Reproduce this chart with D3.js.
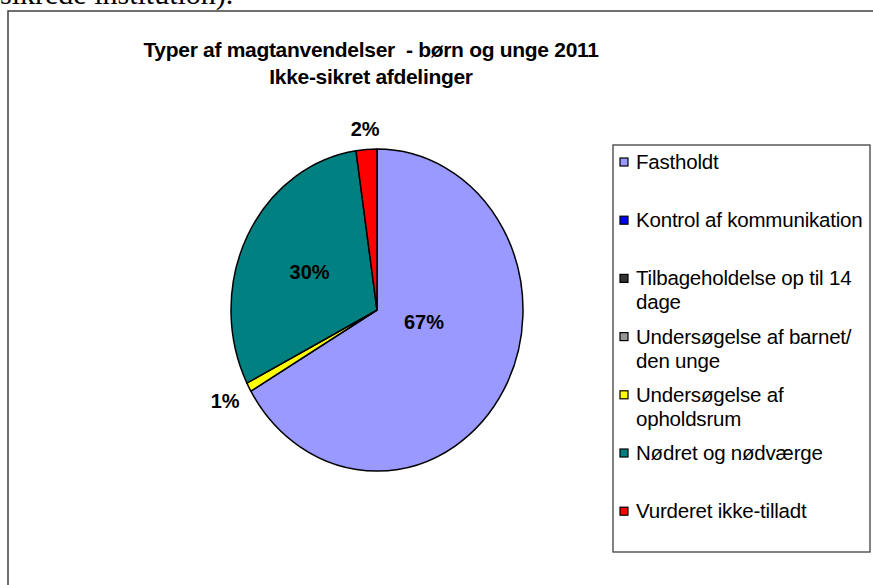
<!DOCTYPE html>
<html><head><meta charset="utf-8">
<script src="https://cdn.jsdelivr.net/npm/d3@7"></script>
<style>body{margin:0;background:#fff;overflow:hidden} svg{display:block}</style>
</head><body>
<svg id="c" width="873" height="585"></svg>
<script>
// ---- data ----
const categories = ["Fastholdt","Kontrol af kommunikation","Tilbageholdelse op til 14 dage","Undersøgelse af barnet/ den unge","Undersøgelse af opholdsrum","Nødret og nødværge","Vurderet ikke-tilladt"];
const legendLines = [["Fastholdt"],["Kontrol af kommunikation"],["Tilbageholdelse op til 14","dage"],["Undersøgelse af barnet/","den unge"],["Undersøgelse af","opholdsrum"],["Nødret og nødværge"],["Vurderet ikke-tilladt"]];
const values = [66.6, 0, 0, 0, 0.9, 30.2, 2.3];
const colors = ["#9999FF","#0000FF","#333333","#969696","#FFFF00","#008080","#FF0000"];
const titleLines = ["Typer af magtanvendelser  - børn og unge 2011","Ikke-sikret afdelinger"];

// ---- layout ----
const svg = d3.select("#c");
const SANS = "'Liberation Sans', Arial, sans-serif";

svg.append("text").attr("x", 0).attr("y", 4)
  .attr("font-family", "'Liberation Serif','Times New Roman',serif")
  .attr("font-size", 30).attr("fill", "#000").text("sikrede institution).");

svg.append("rect").attr("x", 8).attr("y", 11).attr("width", 900).attr("height", 600)
  .attr("fill", "#fff").attr("stroke", "#404040").attr("stroke-width", 1.5);

// title
const title = svg.append("text").attr("text-anchor", "middle")
  .attr("font-family", SANS).attr("font-weight", "bold").attr("font-size", 21)
  .attr("letter-spacing", -0.3).attr("fill", "#000");
titleLines.forEach((t, i) => {
  title.append("tspan").attr("x", 371).attr("y", 57 + i * 27).attr("xml:space","preserve").text(t);
});

// pie
const cx = 377, cy = 310, rx = 146, ry = 161;
const total = d3.sum(values);
const data = categories.map((c, i) => ({ c, v: values[i], col: colors[i], i }));
const arcs = d3.pie().sort(null).value(d => d.v)(data);
const arc = d3.arc().innerRadius(0).outerRadius(rx);
const g = svg.append("g").attr("transform", `translate(${cx},${cy}) scale(1,${ry / rx})`);
g.selectAll("path").data(arcs.filter(a => a.data.v > 0)).join("path")
  .attr("d", arc).attr("fill", d => d.data.col)
  .attr("stroke", "#000").attr("stroke-width", 1.5)
  .attr("vector-effect", "non-scaling-stroke").attr("stroke-linejoin", "round");

// labels
const inside = { 0: { at: 0.43, f: 0.33 } };
const pt = (a, f) => [cx + rx * f * Math.sin(a), cy - ry * f * Math.cos(a)];
arcs.filter(a => a.data.v > 0).forEach(a => {
  const pct = Math.round(a.data.v / total * 100) + "%";
  const span = a.endAngle - a.startAngle;
  let x, y;
  if (span / (2 * Math.PI) > 0.1) {
    const s = inside[a.data.i] || { at: 0.5, f: 0.52 };
    [x, y] = pt(a.startAngle + span * s.at, s.f);
  } else {
    const m = (a.startAngle + a.endAngle) / 2;
    const [ex, ey] = pt(m, 1);
    let dx = ex - cx, dy = ey - cy; const L = Math.hypot(dx, dy); dx /= L; dy /= L;
    const hw = 14, hh = 9, gap = 11;
    const d = gap + Math.abs(dx) * hw + Math.abs(dy) * hh;
    x = ex + dx * d; y = ey + dy * d;
  }
  svg.append("text").attr("x", x).attr("y", y).attr("dy", "0.35em")
    .attr("text-anchor", "middle").attr("font-family", SANS).attr("font-weight", "bold")
    .attr("font-size", 20).attr("fill", "#000").text(pct);
});

// legend
svg.append("rect").attr("x", 613).attr("y", 145).attr("width", 257).attr("height", 407)
  .attr("fill", "#fff").attr("stroke", "#404040").attr("stroke-width", 1.3);
const slot = 58.2;
legendLines.forEach((lines, i) => {
  const by = 169 + i * slot;
  svg.append("rect").attr("x", 620).attr("y", by - 11).attr("width", 8).attr("height", 8)
    .attr("fill", colors[i]).attr("stroke", "#000").attr("stroke-width", 1.2);
  const t = svg.append("text").attr("font-family", SANS).attr("font-size", 20.5)
    .attr("letter-spacing", -0.2).attr("fill", "#000");
  lines.forEach((l, k) => t.append("tspan").attr("x", 636).attr("y", by + k * 24).text(l));
});
</script>
</body></html>
